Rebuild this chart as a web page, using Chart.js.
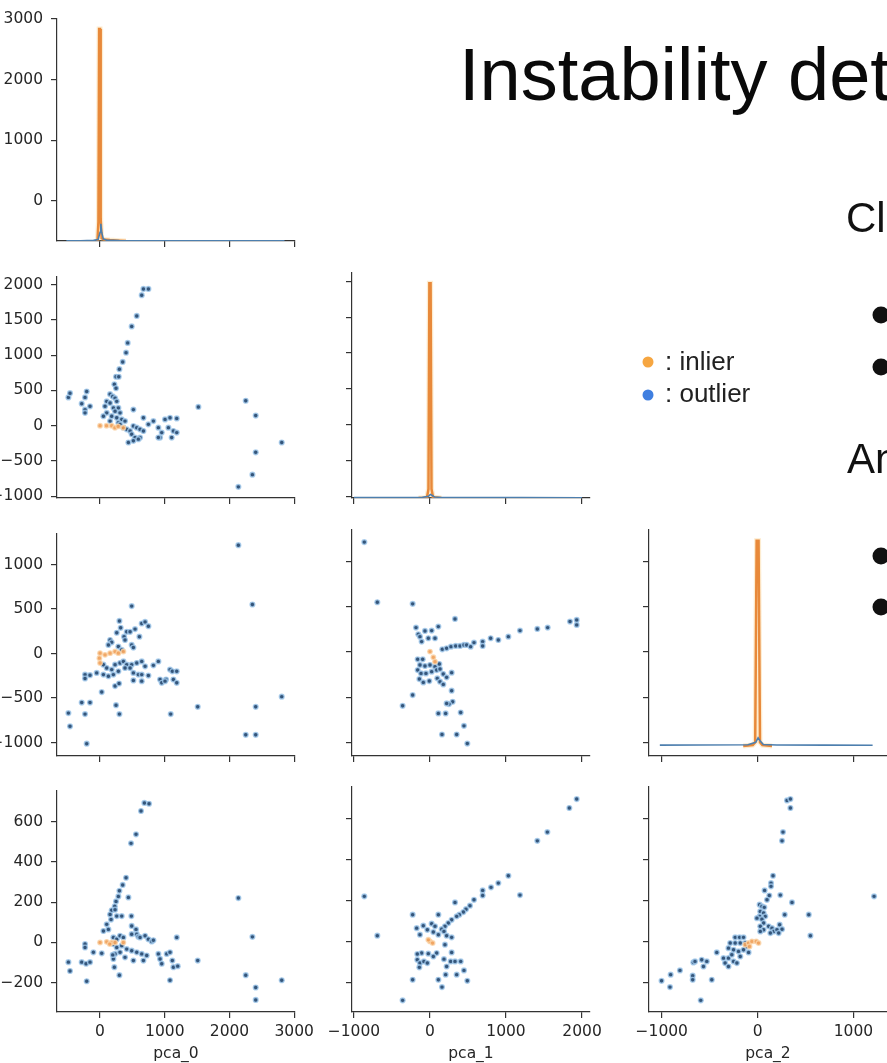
<!DOCTYPE html>
<html><head><meta charset="utf-8">
<script src="https://cdn.jsdelivr.net/npm/chart.js@4/dist/chart.umd.min.js"></script>
<style>
html,body{margin:0;padding:0;background:#fff;width:887px;height:1063px;overflow:hidden;position:relative}
canvas{position:absolute}
#txt{position:absolute;left:0;top:0;z-index:5}
</style></head><body>
<svg id="txt" width="887" height="1063" font-family="Liberation Sans, Arial, sans-serif">
  <text x="459" y="100" font-size="74" fill="#0a0a0a">Instability det</text>
  <text x="846" y="232" font-size="42" fill="#111">Cl</text>
  <text x="847" y="473" font-size="42" fill="#111">An</text>
  <circle cx="881" cy="315" r="8.5" fill="#111"/>
  <circle cx="881" cy="367" r="8.5" fill="#111"/>
  <circle cx="881" cy="556" r="8.5" fill="#111"/>
  <circle cx="881" cy="607" r="8.5" fill="#111"/>
  <circle cx="648" cy="362" r="5.5" fill="#f6a641"/>
  <text x="665" y="370" font-size="26" fill="#222">: inlier</text>
  <circle cx="648" cy="395" r="5.5" fill="#3f7fe0"/>
  <text x="665" y="402" font-size="26" fill="#222">: outlier</text>
</svg>
<script>
// ---------- axis tick values ----------
const ticks_pca0 = [0, 1000, 2000, 3000];
const ticks_pca1_x = [-1000, 0, 1000, 2000];
const ticks_pca1_y = [-1000, -500, 0, 500, 1000, 1500, 2000];
const ticks_pca2_x = [-1000, 0, 1000];
const ticks_pca2_y = [-1000, -500, 0, 500, 1000];
const ticks_pca3_y = [-200, 0, 200, 400, 600];
const axis_names = ['pca_0', 'pca_1', 'pca_2'];

// ---------- scatter data (outlier / inlier) ----------
const pca0_pca1_out = [[-489,401],[-464,461],[-206,485],[-232,401],[-283,312],[-232,228],[-232,182],[-155,275],
[670,1939],[747,1939],[644,1850],[567,1556],[489,1407],[427,1174],[402,1035],[350,904],[299,801],[247,694],[289,694],[221,587],[247,531],
[155,447],[196,415],[232,391],[103,345],[155,322],[258,345],[77,275],[206,252],[283,252],[103,182],[232,205],[309,182],[52,135],[180,135],[258,112],[335,89],[155,65],[283,42],[386,65],
[309,19],[361,-28],[412,-51],[464,-75],[515,-5],[567,-28],[618,-51],[670,-75],[489,-121],[541,-168],[618,-168],[438,-238],[515,-214],[592,-191],[670,112],[515,228],[747,19],[824,65],[901,-28],[927,-168],[1004,89],[1081,112],[1185,103],[1056,-28],[1133,-75],[1107,-168],[1185,-98],[953,-98],[901,-168],
[1519,266],[2251,354],[2405,144],[2807,-238],[2405,-377],[2354,-694],[2137,-867]];
const pca0_pca1_in = [[0,0],[100,0],[180,0],[230,-30],[280,-10],[360,-30]];

const pca0_pca2_out = [[2137,1217],[2354,551],[2807,-485],[2405,-599],[2251,-914],[2405,-914],[1509,-599],[1092,-681],
[-489,-670],[-464,-818],[-206,-1014],[-232,-681],[-283,-551],[-155,-551],[-232,-237],[-232,-281],[-155,-244],[-52,-218],[26,-433],[247,-581],[299,-681],[232,-366],[294,-337],
[489,533],[299,366],[319,289],[258,233],[155,152],[180,126],[129,96],[412,244],[464,244],[541,274],[644,337],[696,355],[747,307],[608,189],[371,189],[386,152],[489,96],[515,67],[283,78],[335,41],
[52,-126],[103,-163],[180,-181],[232,-126],[309,-107],[361,-89],[412,-126],[489,-126],[567,-107],[644,-89],[696,-144],[52,-237],[129,-255],[206,-237],[283,-200],[386,-163],[464,-163],[515,-218],[592,-237],[644,-237],[515,-303],[644,-311],[747,-248],[824,-133],[901,-89],[927,-292],[953,-329],[1020,-292],[1081,-181],[1117,-200],[1185,-200],[1133,-292],[1185,-329],[1004,-311]];
const pca0_pca2_in = [[0,4],[-10,-52],[0,-107],[77,-15],[155,4],[232,22],[283,4],[361,22]];

const pca0_pca3_out = [[685,694],[757,690],[633,654],[556,538],[479,493],
[402,322],[350,286],[299,257],[283,229],[247,204],[227,180],[180,160],[155,139],[170,114],[232,163],[258,131],[103,90],[129,65],[52,57],[438,224],[484,131],[489,82],[556,65],[567,41],[335,131],
[206,25],[258,16],[309,33],[361,25],[489,41],[592,29],[618,25],[696,33],[747,16],[798,5],[206,-8],[258,-25],[335,-16],[412,-33],[489,-41],[567,-49],[644,-57],[721,-65],[232,-57],[309,-49],[386,-74],[515,-90],[670,-90],
[824,11],[901,-57],[927,-82],[953,-106],[1030,-57],[1081,-49],[1117,-90],[1133,-123],[1200,-118],[1185,25],[1081,-188],[1509,-90],
[-489,-98],[-464,-142],[-283,-98],[-232,-8],[-232,-25],[-216,-106],[-155,-98],[-206,-193],[-103,-49],[26,-54],
[221,-123],[299,-163],[206,-82],[196,-62],
[2137,221],[2354,28],[2251,-163],[2405,-224],[2405,-286],[2807,-188]];
const pca0_pca3_in = [[0,0],[103,3],[180,0],[232,0],[360,0],[150,-8]];

const pca1_pca2_out = [[-864,1217],[-693,551],[-228,533],[329,366],[110,281],
[162,30],[219,41],[276,59],[338,67],[395,67],[447,78],[482,78],[535,59],[579,104],[693,115],[693,67],[798,152],[899,133],[1031,170],[1184,237],[1412,255],[1548,270],[1842,337],[1930,355],[1930,300],
[-184,270],[-154,196],[-132,170],[-66,233],[22,237],[66,152],[-22,152],[-110,115],
[-162,-81],[-96,-81],[-132,-144],[-66,-155],[0,-144],[66,-163],[-162,-200],[-118,-237],[-53,-237],[22,-218],[88,-200],[132,-189],[175,-244],[-140,-300],[-88,-337],[-9,-322],[96,-292],[132,-329],[175,-359],[219,-281],[285,-229],[123,-133],
[285,-429],[298,-551],[250,-577],[219,-570],[110,-681],[206,-681],[404,-670],[447,-818],[158,-914],[351,-914],[491,-1014],[-228,-477],[-360,-596]];
const pca1_pca2_in = [[0,4],[44,-59],[66,-107]];

const pca1_pca3_out = [[1930,698],[1833,654],[1544,536],[1412,493],[1031,322],[1184,227],[899,286],[803,265],[693,250],[693,225],[579,204],[526,175],[474,158],[439,144],[386,131],[329,191],[351,123],[285,106],[241,90],[197,74],[154,60],[110,131],[-228,131],
[-864,221],[-693,28],
[-175,65],[-132,33],[-88,77],[22,87],[66,74],[-35,57],[44,46],[110,33],[184,49],[219,28],[285,20],[197,-16],[88,-57],[-22,-60],[-110,-57],[-167,-62],[-167,-90],[-132,-106],[-80,-98],[-35,-106],[-140,-127],[44,-74],[184,-87],[219,-123],[285,-54],[272,-98],[329,-98],[404,-98],[447,-142],[351,-163],[206,-163],[110,-188],[158,-224],[491,-193],[-228,-188],[-360,-289]];
const pca1_pca3_in = [[0,0],[-22,8],[35,-8]];

const pca2_pca3_out = [[307,691],[342,698],[342,654],[265,536],[255,493],[1215,221],
[161,322],[140,286],[140,270],[73,250],[122,225],[98,204],[237,227],[359,191],[283,131],[534,131],[551,28],
[21,180],[45,172],[70,167],[28,147],[63,139],[21,123],[80,123],[45,109],[-7,114],[63,90],[28,74],[63,57],[28,49],[115,74],[150,65],[168,49],[133,41],[230,82],[255,60],[202,57],[220,41],
[-234,20],[-188,20],[-147,20],[-286,-8],[-234,-8],[-181,-8],[-129,-8],[-112,-25],[-304,-33],[-251,-41],[-199,-49],[-147,-41],[-94,-54],[-426,-54],[-356,-82],[-304,-82],[-251,-98],[-339,-106],[-304,-123],[-216,-106],[-269,-65],[-181,-74],
[-670,-103],[-653,-98],[-583,-90],[-530,-98],[-565,-123],[-677,-168],[-677,-188],[-810,-142],[-907,-163],[-914,-224],[-1002,-193],[-478,-188],[-593,-289]];
const pca2_pca3_in = [[-129,-16],[-94,-8],[-59,0],[-14,0],[10,-8],[-84,-25]];

// ---------- diagonal density curves (drawn in the panel's own units) ----------
const kde_pca0_in = [[-40,-665],[-25,-350],[-14,2837],[0,2837],[10,-300],[25,-620],[60,-640],[150,-650],[300,-660],[400,-665]];
const kde_pca0_out = [[-520,-662],[-300,-660],[-100,-655],[-30,-640],[0,-520],[12,-380],[25,-520],[50,-630],[100,-650],[300,-657],[800,-660],[1500,-661],[2200,-662],[2850,-663]];
const kde_pca1_in = [[-150,-1025],[-40,-1020],[-20,-900],[-8,1976],[8,1976],[20,-900],[40,-1015],[150,-1025]];
const kde_pca1_out = [[-1000,-1020],[-500,-1019],[-100,-1016],[-20,-1000],[5,-975],[30,-990],[60,-1010],[150,-1017],[600,-1019],[1200,-1020],[2000,-1021]];
const kde_pca2_in = [[-150,-1040],[-50,-1030],[-25,-1000],[-10,1232],[10,1232],[25,-1000],[50,-1030],[150,-1040]];
const kde_pca2_out = [[-1020,-1032],[-600,-1031],[-100,-1028],[-20,-1000],[5,-950],[30,-990],[60,-1025],[200,-1030],[700,-1032],[1200,-1033]];

// ---------- layout ----------
const S0 = {min:-665, max:3012, ticks:ticks_pca0};
const S1x = {min:-1026, max:2105, ticks:ticks_pca1_x};
const S1y = {min:-1025, max:2118, ticks:ticks_pca1_y};
const S2x = {min:-1133, max:1350, ticks:ticks_pca2_x};
const S2y = {min:-1152, max:1351, ticks:ticks_pca2_y};
const S3y = {min:-346, max:757, ticks:ticks_pca3_y};
const COLS = [57, 352, 649];
const ROWS = [{top:15,h:226},{top:273,h:225},{top:530,h:226},{top:787,h:225}];
const LM=57, TM=14, RM=30, BM=55, AX='#333';
const fmt = v => v < 0 ? '\u2212' + Math.abs(v) : String(v);
const pts = arr => arr.map(([x,y]) => ({x, y}));
const svgEl = document.getElementById('txt');

function axis(def, show, title, isX){
  return {
    type:'linear', min:def.min, max:def.max,
    afterBuildTicks: s => { s.ticks = def.ticks.map(v => ({value:v})); },
    afterFit: s => { if (isX) s.height = BM; else s.width = LM; },
    grid:{display:true, drawOnChartArea:false, drawTicks:true, tickLength:6, color:AX, lineWidth:1.2},
    border:{display:true, color:AX, width:1.2},
    ticks:{display:show, padding: isX ? 5 : 8, color:'#262626', font:{family:'DejaVu Sans', size:15.5}, callback: v => fmt(v), maxRotation:0, autoSkip:false},
    title: title ? {display:true, text:title, color:'#262626', font:{family:'DejaVu Sans', size:15.5}, padding:{top:0, bottom:4}} : {display:false}
  };
}
function scatterSets(out, inl){
  return [
    {data:pts(inl), pointRadius:2.3, backgroundColor:'rgba(239,157,85,0.9)', borderColor:'rgba(250,212,170,0.8)', borderWidth:1.3},
    {data:pts(out), pointRadius:2.4, backgroundColor:'#34557a', borderColor:'rgba(160,200,235,0.8)', borderWidth:1.4}
  ];
}
function kdeSets(out, inl){
  return [
    {data:pts(out), showLine:true, pointRadius:0, borderColor:'#4d7fae', borderWidth:1.6},
    {data:pts(inl), showLine:true, pointRadius:0, borderColor:'#e8893a', borderWidth:2.5},
    {data:pts(inl), showLine:true, pointRadius:0, borderColor:'rgba(250,200,120,0.35)', borderWidth:5}
  ];
}
function panel(col, row, xdef, ydef, datasets, showX, showY, xTitle){
  const b = {left:COLS[col], top:ROWS[row].top, w:238, h:ROWS[row].h};
  const W = LM + b.w + RM, H = TM + b.h + BM;
  const c = document.createElement('canvas');
  c.width = W; c.height = H;
  c.style.left = (b.left - LM) + 'px'; c.style.top = (b.top - TM) + 'px';
  c.style.width = W + 'px'; c.style.height = H + 'px';
  document.body.insertBefore(c, svgEl);
  new Chart(c, {type:'scatter', data:{datasets},
    options:{responsive:false, animation:false, devicePixelRatio:1,
      layout:{padding:{top:TM, right:RM, left:0, bottom:0}},
      plugins:{legend:{display:false}, tooltip:{enabled:false}},
      scales:{x:axis(xdef, showX, xTitle, true), y:axis(ydef, showY, null, false)}}});
}

// row 0
panel(0, 0, S0, S0, kdeSets(kde_pca0_out, kde_pca0_in), false, true, null);
// row 1
panel(0, 1, S0, S1y, scatterSets(pca0_pca1_out, pca0_pca1_in), false, true, null);
panel(1, 1, S1x, S1y, kdeSets(kde_pca1_out, kde_pca1_in), false, false, null);
// row 2
panel(0, 2, S0, S2y, scatterSets(pca0_pca2_out, pca0_pca2_in), false, true, null);
panel(1, 2, S1x, S2y, scatterSets(pca1_pca2_out, pca1_pca2_in), false, false, null);
panel(2, 2, S2x, S2y, kdeSets(kde_pca2_out, kde_pca2_in), false, false, null);
// row 3
panel(0, 3, S0, S3y, scatterSets(pca0_pca3_out, pca0_pca3_in), true, true, axis_names[0]);
panel(1, 3, S1x, S3y, scatterSets(pca1_pca3_out, pca1_pca3_in), true, false, axis_names[1]);
panel(2, 3, S2x, S3y, scatterSets(pca2_pca3_out, pca2_pca3_in), true, false, axis_names[2]);
</script>
</body></html>
